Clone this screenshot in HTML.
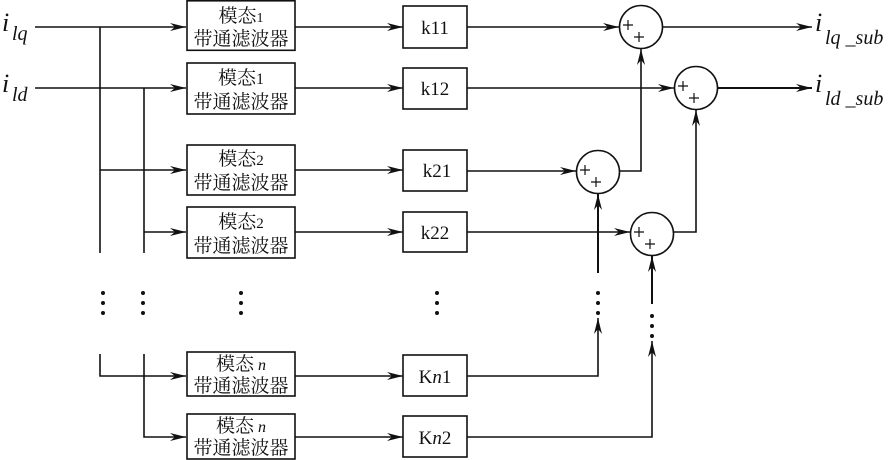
<!DOCTYPE html>
<html><head><meta charset="utf-8"><style>
html,body{margin:0;padding:0;background:#fff;}
svg{display:block;}
.t{font-family:"Liberation Serif","Noto Serif CJK SC",serif;fill:#111;}
</style></head><body>
<svg width="893" height="460" viewBox="0 0 893 460" xmlns="http://www.w3.org/2000/svg">
<defs>
<marker id="a" viewBox="0 0 16 8" refX="16" refY="4" markerWidth="16" markerHeight="8" markerUnits="userSpaceOnUse" orient="auto">
<path d="M0,0 L16,4 L0,8 L5,4 Z" fill="#111"/>
</marker>
</defs>
<g stroke="#111" stroke-width="1.6" fill="none">
<!-- inputs -->
<line x1="35" y1="27" x2="186" y2="27" marker-end="url(#a)"/>
<line x1="35" y1="88" x2="186" y2="88" marker-end="url(#a)"/>
<!-- buses -->
<line x1="100" y1="27" x2="100" y2="253"/>
<line x1="144" y1="88" x2="144" y2="253"/>
<line x1="100" y1="170" x2="186" y2="170" marker-end="url(#a)"/>
<line x1="144" y1="232" x2="186" y2="232" marker-end="url(#a)"/>
<polyline points="100,354 100,376 186,376" marker-end="url(#a)"/>
<polyline points="144,354 144,437 186,437" marker-end="url(#a)"/>
<!-- filter boxes -->
<rect x="187" y="0.8" width="108" height="49.5"/>
<rect x="187" y="63" width="108" height="51"/>
<rect x="187" y="145" width="108" height="50"/>
<rect x="187" y="207" width="108" height="51"/>
<rect x="187" y="352" width="108" height="44"/>
<rect x="187" y="414" width="108" height="45"/>
<!-- filter -> k -->
<line x1="295" y1="27" x2="403" y2="27" marker-end="url(#a)"/>
<line x1="295" y1="88" x2="403" y2="88" marker-end="url(#a)"/>
<line x1="295" y1="170" x2="403" y2="170" marker-end="url(#a)"/>
<line x1="295" y1="232" x2="403" y2="232" marker-end="url(#a)"/>
<line x1="295" y1="376" x2="403" y2="376" marker-end="url(#a)"/>
<line x1="295" y1="437" x2="403" y2="437" marker-end="url(#a)"/>
<!-- k boxes -->
<rect x="403" y="6" width="64" height="42"/>
<rect x="403" y="68" width="64" height="41"/>
<rect x="403" y="150" width="64" height="41"/>
<rect x="403" y="212" width="64" height="40"/>
<rect x="403" y="355" width="64" height="41"/>
<rect x="403" y="416" width="64" height="41"/>
<!-- sums -->
<circle cx="641" cy="27" r="21.5"/>
<circle cx="696" cy="88" r="21.5"/>
<circle cx="598" cy="172" r="21.5"/>
<circle cx="652" cy="234" r="21.5"/>
<!-- k -> sums -->
<line x1="467" y1="27" x2="619" y2="27" marker-end="url(#a)"/>
<line x1="467" y1="88" x2="674" y2="88" marker-end="url(#a)"/>
<line x1="467" y1="171" x2="576" y2="171" marker-end="url(#a)"/>
<line x1="467" y1="232" x2="630" y2="232" marker-end="url(#a)"/>
<!-- sum outputs -->
<polyline points="619.5,171 641,171 641,49" marker-end="url(#a)"/>
<polyline points="673.5,232 696,232 696,110" marker-end="url(#a)"/>
<line x1="662" y1="27" x2="812" y2="27" marker-end="url(#a)"/>
<line x1="717" y1="88" x2="812" y2="88" stroke-width="2" marker-end="url(#a)"/>
<!-- lower feeds -->
<line x1="598" y1="273" x2="598" y2="194" stroke-width="2" marker-end="url(#a)"/>
<polyline points="467,376 598,376 598,318" marker-end="url(#a)"/>
<line x1="652" y1="304" x2="652" y2="256" stroke-width="2" marker-end="url(#a)"/>
<polyline points="467,437 652,437 652,341" marker-end="url(#a)"/>
<!-- plus signs -->
<g stroke-width="1.2">
<path d="M623,25h10M628,20v10M634,37h10M639,32v10"/>
<path d="M678,86h10M683,81v10M689,98h10M694,93v10"/>
<path d="M580,170h10M585,165v10M591,182h10M596,177v10"/>
<path d="M634,232h10M639,227v10M645,244h10M650,239v10"/>
</g>
</g>
<!-- dots -->
<g fill="#111">
<circle cx="103" cy="293" r="2"/><circle cx="103" cy="303" r="2"/><circle cx="103" cy="313" r="2"/>
<circle cx="143" cy="293" r="2"/><circle cx="143" cy="303" r="2"/><circle cx="143" cy="313" r="2"/>
<circle cx="241" cy="293" r="2"/><circle cx="241" cy="303" r="2"/><circle cx="241" cy="313" r="2"/>
<circle cx="437" cy="293" r="2"/><circle cx="437" cy="303" r="2"/><circle cx="437" cy="313" r="2"/>
<circle cx="598" cy="293" r="2"/><circle cx="598" cy="303" r="2"/><circle cx="598" cy="313" r="2"/>
<circle cx="652" cy="316" r="2"/><circle cx="652" cy="326" r="2"/><circle cx="652" cy="336" r="2"/>
</g>
<!-- labels -->
<g class="t" font-size="19" text-anchor="middle">
<text x="241" y="22">模态<tspan font-size="14">1</tspan></text><text x="241" y="45">带通滤波器</text>
<text x="241" y="84">模态<tspan font-size="16">1</tspan></text><text x="241" y="108">带通滤波器</text>
<text x="241" y="165">模态<tspan font-size="15">2</tspan></text><text x="241" y="189">带通滤波器</text>
<text x="241" y="228">模态<tspan font-size="15">2</tspan></text><text x="241" y="252">带通滤波器</text>
<text x="241" y="370">模态<tspan font-size="16" font-style="italic"> n</tspan></text><text x="241" y="392">带通滤波器</text>
<text x="241" y="432">模态<tspan font-size="16" font-style="italic"> n</tspan></text><text x="241" y="454">带通滤波器</text>
</g>
<g class="t" font-size="19" text-anchor="middle">
<text x="435" y="34">k11</text>
<text x="435" y="95">k12</text>
<text x="437" y="177">k21</text>
<text x="435" y="239">k22</text>
<text x="435" y="383">K<tspan font-style="italic">n</tspan>1</text>
<text x="435" y="444">K<tspan font-style="italic">n</tspan>2</text>
</g>
<g class="t" font-style="italic">
<text x="2" y="31" font-size="26">i</text><text x="12" y="40" font-size="20">lq</text>
<text x="2" y="92" font-size="26">i</text><text x="12" y="101" font-size="20">ld</text>
<text x="815" y="31" font-size="26">i</text><text x="825" y="44" font-size="20">lq _sub</text>
<text x="815" y="92" font-size="26">i</text><text x="825" y="105" font-size="20">ld _sub</text>
</g>
</svg>
</body></html>
